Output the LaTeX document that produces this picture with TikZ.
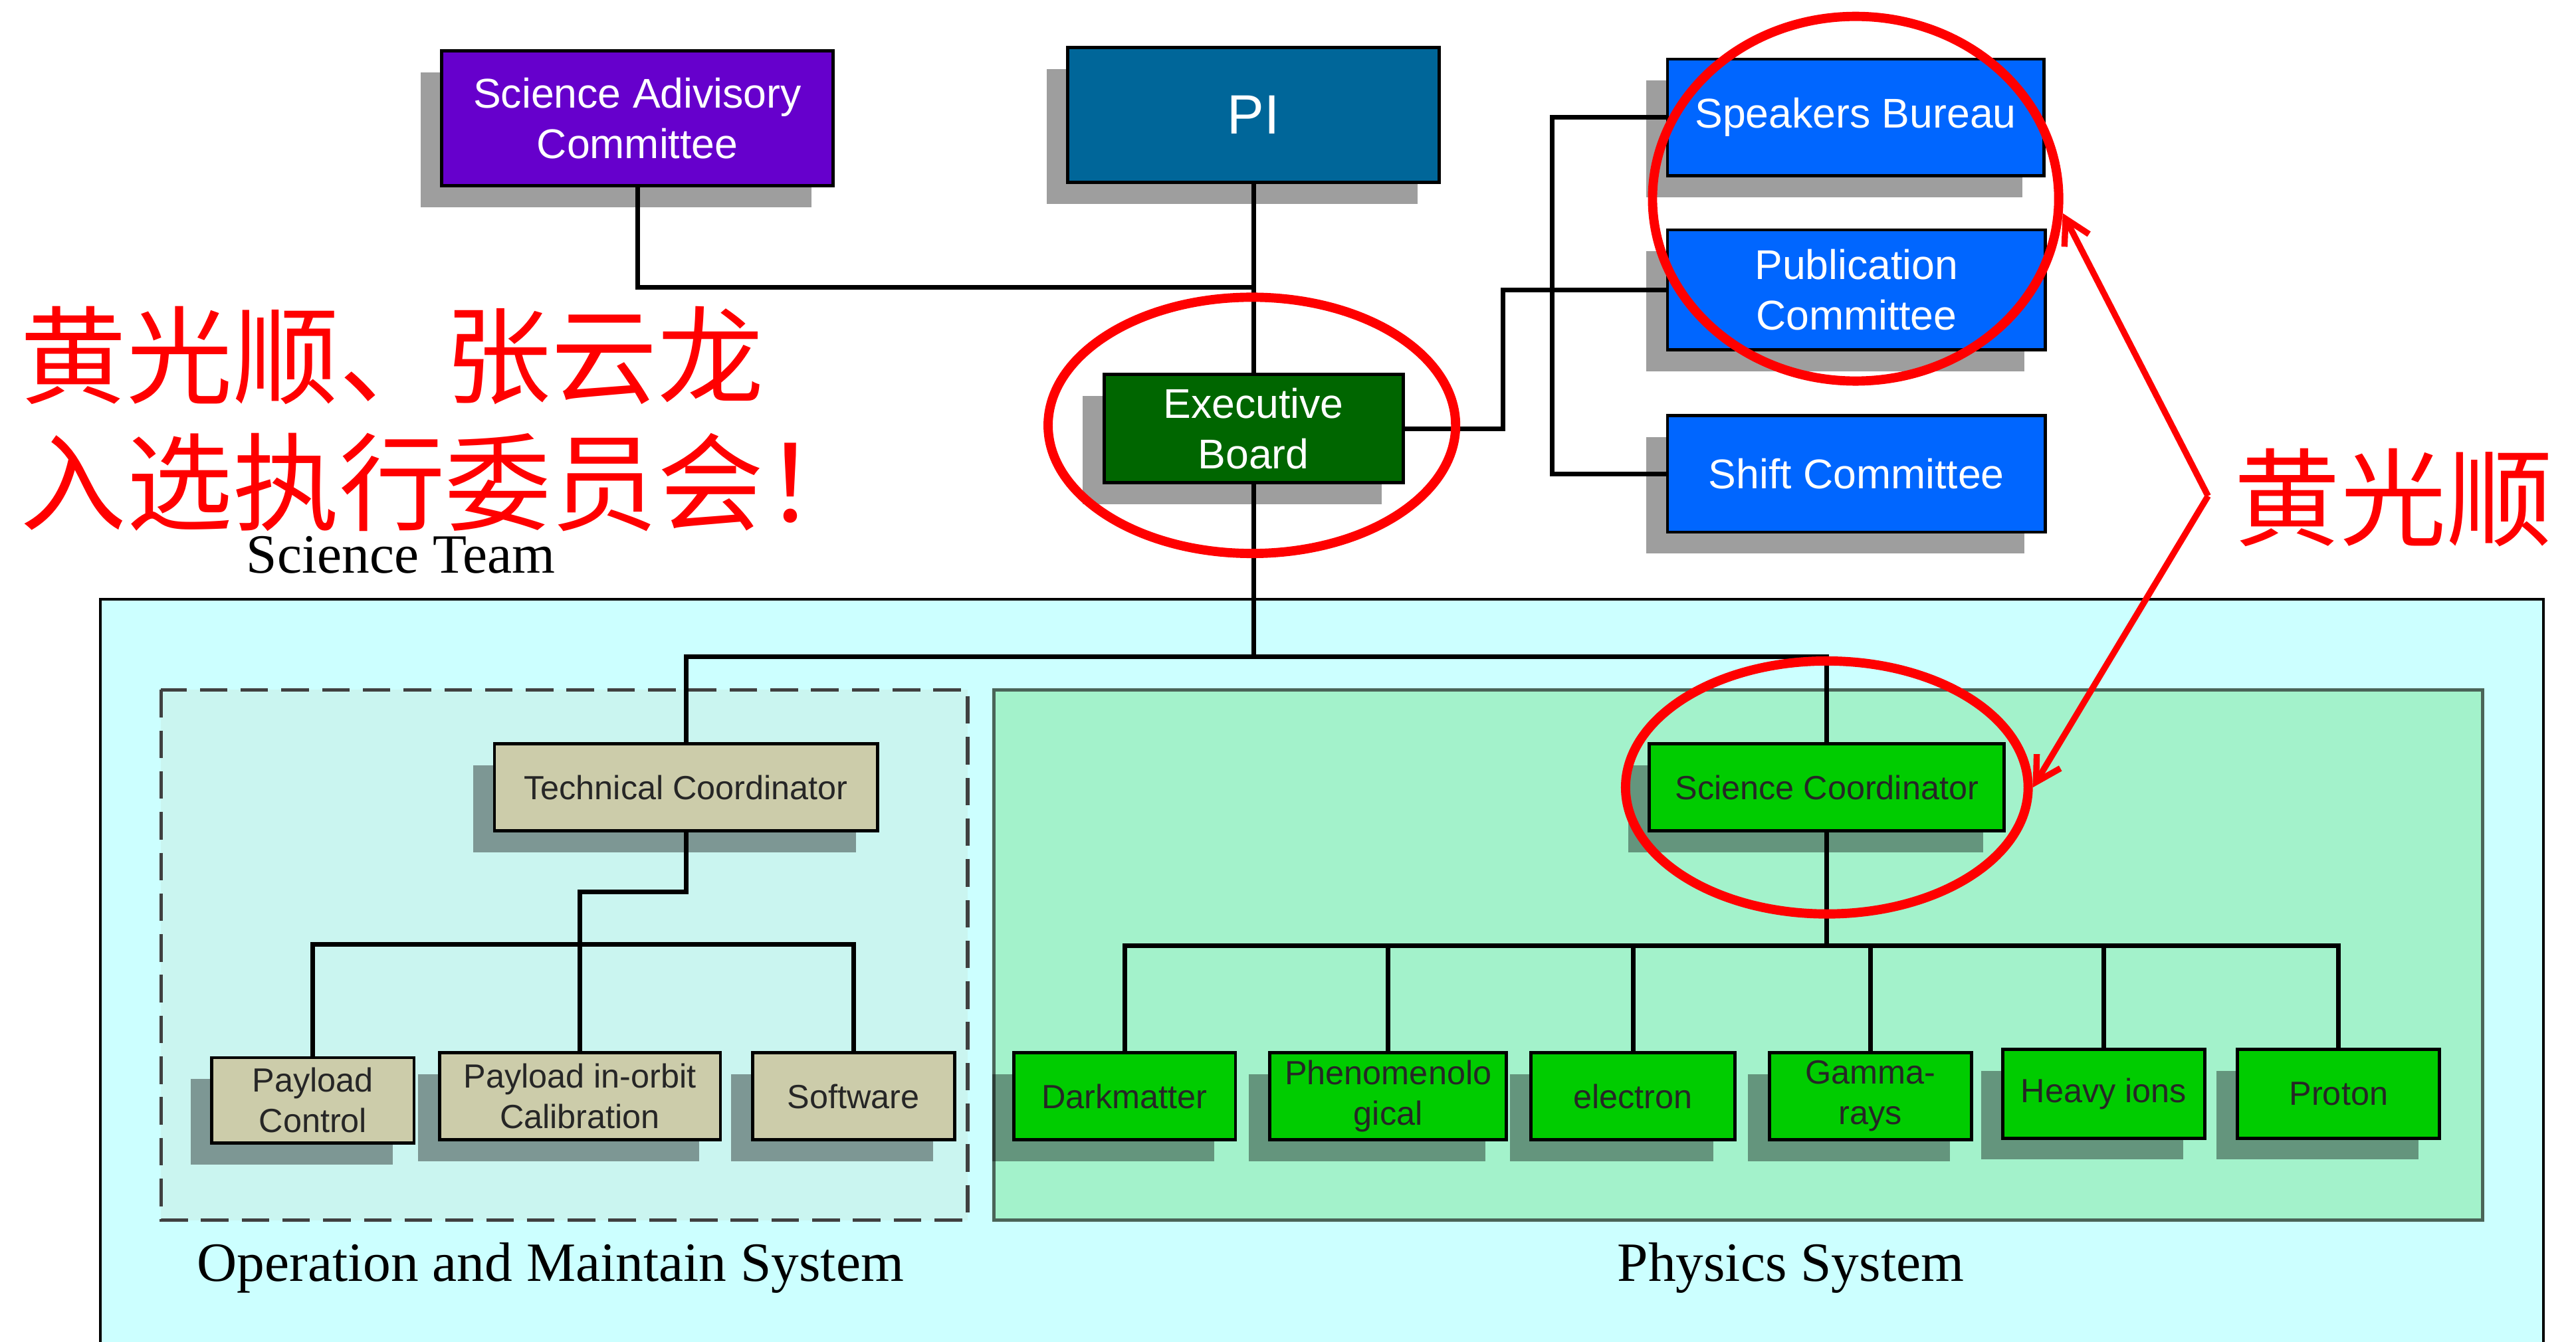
\documentclass[tikz,border=0pt]{standalone}
\usepackage{fontspec}
\setmainfont{Liberation Serif}
\newfontfamily\arialf{Liberation Sans}
\newfontfamily\cjkf{Noto Sans CJK SC}
\usetikzlibrary{arrows.meta}
\usetikzlibrary{shadows}
\usetikzlibrary{shapes.geometric}

\definecolor{sacpurple}{HTML}{6600CC}
\definecolor{piblue}{HTML}{006699}
\definecolor{ebgreen}{HTML}{006600}
\definecolor{comblue}{HTML}{0066FF}
\definecolor{khaki}{HTML}{CCCCAA}
\definecolor{physgreen}{HTML}{00CC00}
\definecolor{teambg}{HTML}{CCFFFF}
\definecolor{opbg}{HTML}{CAF5F0}
\definecolor{physbg}{HTML}{A3F2CB}
\definecolor{physedge}{HTML}{4A6458}

\tikzset{
    orgbox/.style={draw=black, line width=1.4pt, inner sep=0pt, align=center,
        text=white, font=\arialf\fontsize{18}{22}\selectfont,
        drop shadow={shadow xshift=-0.325cm, shadow yshift=-0.325cm, fill=black, fill opacity=0.38}},
    subbox/.style={orgbox, text=black!85, font=\arialf\fontsize{14.5}{17.5}\selectfont},
    link/.style={line width=2pt, black},
    ring/.style={ellipse, draw=red, line width=4pt, inner sep=0pt},
    pointer/.style={red, line width=2.7pt, -{Straight Barb[length=0.37cm, width=0.42cm]}},
    cjktext/.style={text=red, inner sep=0pt, font=\cjkf\fontsize{46}{55}\selectfont},
    serifcap/.style={inner sep=0pt, font=\fontsize{24}{28}\selectfont},
}

\begin{document}
\begin{tikzpicture}[x=0.025cm, y=-0.025cm]

    \fill[white] (0,0) rectangle (1568,817);
    \useasboundingbox (0,0) rectangle (1568,817);

    % team areas
    \fill[teambg] (61,365) rectangle (1548,817);
    \draw[line width=1.2pt] (61,817) |- (1548,365) -- (1548,817);
    \fill[opbg] (98,420) rectangle (589,743);
    \draw[black!75, line width=1.5pt, dash pattern=on 0.42cm off 0.2cm] (98,420) rectangle (589,743);
    \fill[physbg] (605,420) rectangle (1511,743);
    \draw[physedge, line width=1.5pt] (605,420) rectangle (1511,743);

    \node [serifcap] (team) at (244,338) {Science Team};
    \node [serifcap] (opsys) at (335,772) {Operation and Maintain System};
    \node [serifcap] (physsys) at (1090,772) {Physics System};

    % top level
    \node [orgbox, fill=sacpurple, minimum width=5.95cm, minimum height=2.05cm] (sac) at (388,72) {Science Adivisory\\Committee};
    \node [orgbox, fill=piblue, minimum width=5.65cm, minimum height=2.05cm, font=\arialf\fontsize{24}{28}\selectfont] (pi) at (763,70) {PI};
    \node [orgbox, fill=ebgreen, minimum width=4.55cm, minimum height=1.65cm] (eb) at (763,261) {Executive\\Board};
    \node [orgbox, fill=comblue, minimum width=5.725cm, minimum height=1.775cm] (sb) at (1129.5,71.5) {Speakers Bureau};
    \node [orgbox, fill=comblue, minimum width=5.75cm, minimum height=1.825cm] (pc) at (1130,176.5) {Publication\\Committee};
    \node [orgbox, fill=comblue, minimum width=5.75cm, minimum height=1.775cm] (shift) at (1130,288.5) {Shift Committee};

    % operation and maintain
    \node [subbox, fill=khaki, minimum width=5.825cm, minimum height=1.325cm] (tc) at (417.5,479.5) {Technical Coordinator};
    \node [subbox, fill=khaki, minimum width=3.075cm, minimum height=1.3cm] (payctl) at (190.5,670) {Payload\\Control};
    \node [subbox, fill=khaki, minimum width=4.275cm, minimum height=1.325cm] (paycal) at (353,667.5) {Payload in-orbit\\Calibration};
    \node [subbox, fill=khaki, minimum width=3.075cm, minimum height=1.325cm] (software) at (519.5,667.5) {Software};

    % physics
    \node [subbox, fill=physgreen, minimum width=5.4cm, minimum height=1.325cm] (sci) at (1112,479.5) {Science Coordinator};
    \node [subbox, fill=physgreen, minimum width=3.375cm, minimum height=1.325cm] (dark) at (684.5,667.5) {Darkmatter};
    \node [subbox, fill=physgreen, minimum width=3.6cm, minimum height=1.325cm] (phen) at (845,667.5) {Phenomenolo\\gical};
    \node [subbox, fill=physgreen, minimum width=3.1cm, minimum height=1.325cm] (elec) at (994,667.5) {electron};
    \node [subbox, fill=physgreen, minimum width=3.075cm, minimum height=1.325cm] (gamma) at (1138.5,667.5) {Gamma-\\rays};
    \node [subbox, fill=physgreen, minimum width=3.075cm, minimum height=1.35cm] (heavy) at (1280.5,666) {Heavy ions};
    \node [subbox, fill=physgreen, minimum width=3.075cm, minimum height=1.35cm] (proton) at (1423.5,666) {Proton};

    % connectors
    \coordinate (pijoin) at (763,175);
    \coordinate (split) at (763,400);
    \coordinate (physbar) at (1112,576);
    \draw[link] (pi.south) -- (eb.north);
    \draw[link] (sac.south) |- (pijoin);
    \draw[link] (eb.east) -- ++(60,0) |- (pc.west);
    \draw[link] (sb.west) -- ++(-69,0) |- (shift.west);
    \draw[link] (eb.south) -- (split);
    \draw[link] (tc.north) |- (split) -| (sci.north);
    \draw[link] (tc.south) -- ++(0,36) -| (paycal.north);
    \draw[link] (payctl.north) -- ++(0,-68) -| (software.north);
    \draw[link] (sci.south) -- (physbar);
    \draw[link] (dark.north) |- (physbar) -| (proton.north);
    \foreach \n in {phen,elec,gamma,heavy}
        \draw[link] (\n.north) -- (\n.north |- physbar);

    % red marks
    \node [ring, minimum width=6.2cm, minimum height=3.9cm] (ringeb) at (762,259) {};
    \node [ring, minimum width=6.18cm, minimum height=5.55cm] (ringpub) at (1129.5,121) {};
    \node [ring, minimum width=6.125cm, minimum height=3.85cm] (ringsci) at (1112,479.5) {};
    \coordinate (fork) at (1344,302);
    \draw[pointer] (fork) -- (ringpub.-4);
    \draw[pointer] (fork) -- (ringsci.east);

    \node [cjktext, anchor=west, align=left] (news) at (12,255) {黄光顺、张云龙\\入选执行委员会！};
    \node [cjktext] (name) at (1457,303) {黄光顺};

\end{tikzpicture}
\end{document}
